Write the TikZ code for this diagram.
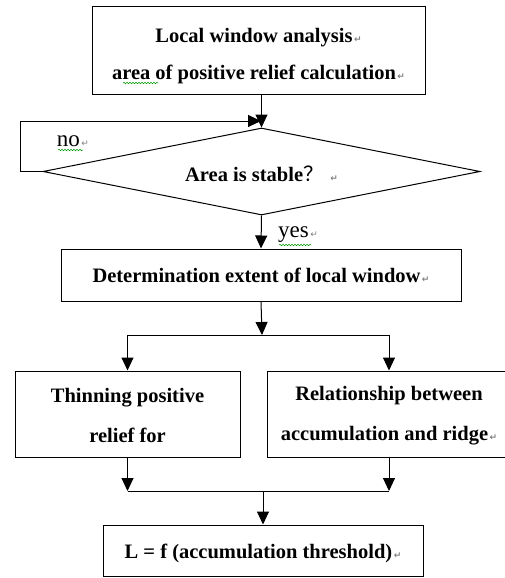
\documentclass[tikz,border=0pt]{standalone}
\usepackage{fontspec}
\setmainfont{Liberation Serif}
\newfontfamily\symf{DejaVu Sans}
\newfontfamily\cjkf{Noto Sans CJK SC}
\usetikzlibrary{arrows.meta,shapes.geometric,decorations.pathmorphing}
\newcommand\retmark{{\symf\fontsize{9}{9}\selectfont\color{gray}\,↵}}
\begin{document}
\begin{tikzpicture}[x=1pt,y=-1pt,
  box/.style={draw, line width=1pt, inner sep=0pt, align=center, font=\bfseries\fontsize{20.5}{37}\selectfont},
  lowbox/.style={box, font=\bfseries\fontsize{20.5}{40}\selectfont},
  arr/.style={line width=1pt, -{Triangle[width=12pt,length=13pt]}},
  ln/.style={line width=1pt},
  lab/.style={inner sep=0pt, font=\fontsize{23}{23}\selectfont},
  wavy/.style={draw=green!60!black, line width=0.5pt, decorate, decoration={snake, amplitude=0.8pt, segment length=3pt}}]
\useasboundingbox (0,0) rectangle (505,578);
\fill[white] (0,0) rectangle (505,578);

\node[box, minimum width=333pt, minimum height=87pt] (a) at (258.5,50.5)
  {\rule{0pt}{25pt}Local window analysis\retmark\\ area of positive relief calculation\retmark};
\node[draw, diamond, aspect=5, minimum width=437pt, minimum height=87pt, inner sep=0pt, line width=1pt,
  font=\bfseries\fontsize{20.5}{24}\selectfont] (d) at (261.5,171.5)
  {\rule{0pt}{20pt}Area is stable{\cjkf\mdseries ？}\ \retmark};
\coordinate (m) at (261,121);
\draw[arr] (a.south -| d.north) -- (d.north);
\draw[arr] (d.west) -- ++(-22,0) |- (m);
\node[lab] (no) at (73,141) {no\retmark};

\node[box, minimum width=400pt, minimum height=52pt] (b) at (261,275) {Determination extent of local window\retmark};
\draw[arr] (d.south) -- (b.north);
\node[lab] (yes) at (298,235) {yes\retmark};

\node[lowbox, minimum width=225pt, minimum height=86pt] (l) at (127.5,414) {\rule{0pt}{18pt}Thinning positive\\ relief for};
\node[lowbox, minimum width=244pt, minimum height=86pt] (r) at (389,414) {\rule{0pt}{18pt}Relationship between\\ accumulation and ridge\retmark};
\coordinate (s) at (262,335);
\draw[arr] (b.south) -- (s);
\draw[ln] (l.north |- s) -- (r.north |- s);
\draw[arr] (l.north |- s) -- (l.north);
\draw[arr] (r.north |- s) -- (r.north);

\node[box, minimum width=320pt, minimum height=51pt] (f) at (263,550.5) {\rule{0pt}{20pt}L = f (accumulation threshold)\retmark};
\coordinate (mg) at (263,491);
\draw[arr] (l.south) -- (l.south |- mg);
\draw[arr] (r.south) -- (r.south |- mg);
\draw[ln] (l.south |- mg) -- (r.south |- mg);
\draw[arr] (mg) -- (f.north);

\draw[wavy] (123,83) -- (158,83);
\draw[wavy] (58,150) -- (83,150);
\draw[wavy] (279,245) -- (311,245);
\end{tikzpicture}
\end{document}
